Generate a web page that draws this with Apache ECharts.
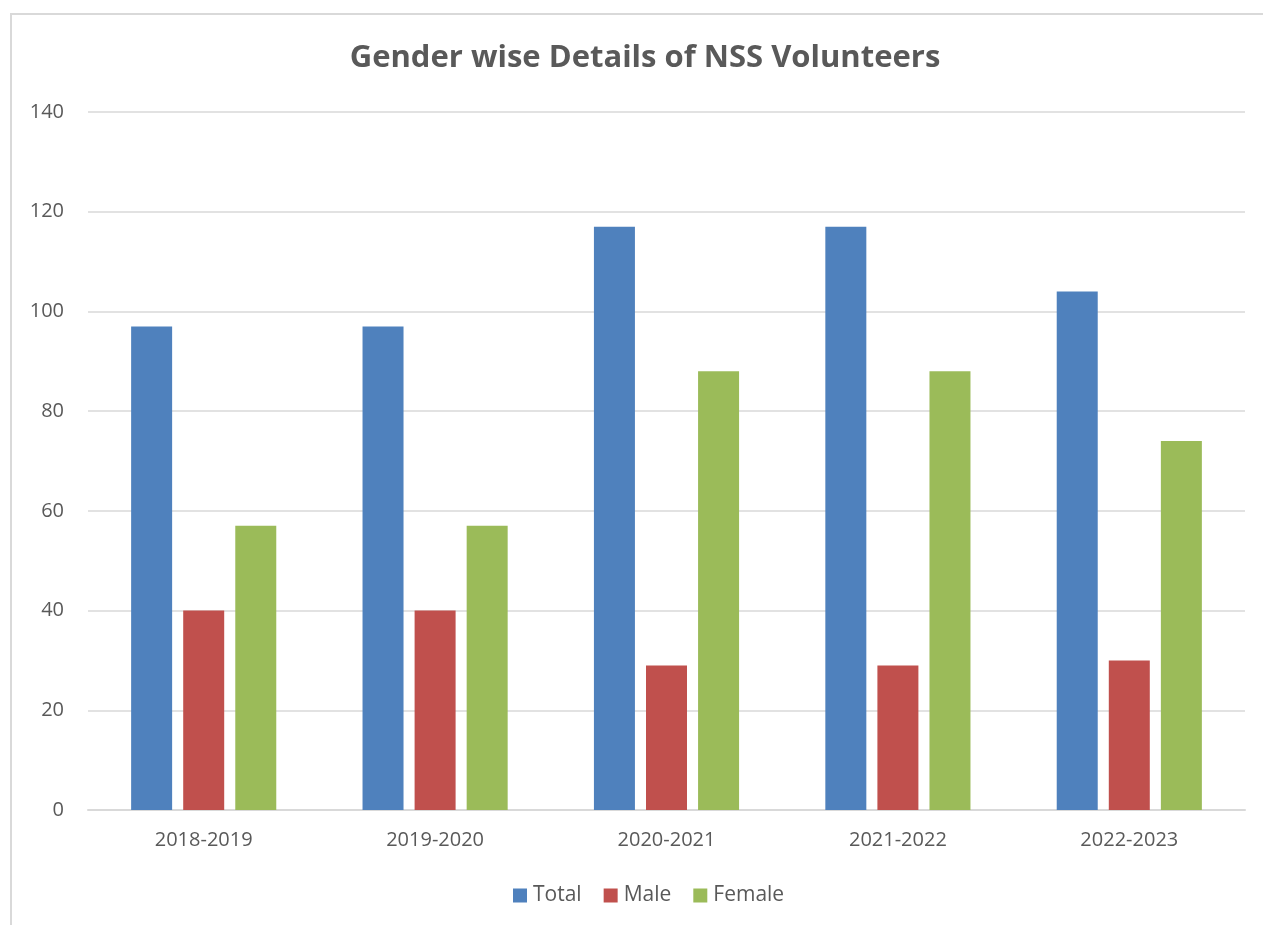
<!DOCTYPE html>
<html>
<head>
<meta charset="utf-8">
<script src="https://cdn.jsdelivr.net/npm/echarts@6/dist/echarts.min.js"></script>
<style>
  html, body { margin: 0; padding: 0; background: #fff; overflow: hidden; }
  #frame { position: absolute; left: 10px; top: 13px; width: 1400px; height: 1000px;
           border-left: 2px solid #d9d9d9; border-top: 2px solid #d9d9d9; }
  #chart { position: absolute; left: 0; top: 0; width: 1263px; height: 925px; }
</style>
</head>
<body>
<div id="frame"></div>
<div id="chart"></div>
<script>
// Gender wise NSS volunteer counts
const years = ['2018-2019', '2019-2020', '2020-2021', '2021-2022', '2022-2023'];
const total = [97, 97, 117, 117, 104];
const male = [40, 40, 29, 29, 30];
const female = [57, 57, 88, 88, 74];

const fontFamily = '"Open Sans", "Noto Sans", sans-serif';
const textColor = '#595959';

const chart = echarts.init(document.getElementById('chart'));

function barSeries(name, data, color) {
    return {
        name: name,
        type: 'bar',
        data: data,
        barWidth: 41,
        barGap: '27%',
        itemStyle: { color: color },
        emphasis: { disabled: true }
    };
}

chart.setOption({
    animation: false,
    title: {
        text: 'Gender wise Details of NSS Volunteers',
        left: 640,
        top: 38,
        textAlign: 'center',
        textStyle: { fontFamily: fontFamily, fontSize: 31, fontWeight: 'bold', color: textColor }
    },
    legend: {
        data: ['Total', 'Male', 'Female'],
        left: 508,
        top: 880,
        itemWidth: 14,
        itemHeight: 14,
        itemGap: 22,
        icon: 'rect',
        textStyle: { fontFamily: fontFamily, fontSize: 21, color: textColor, padding: [0, 0, 0, 1] }
    },
    grid: { left: 88, right: 18, top: 112, bottom: 115 },
    xAxis: {
        type: 'category',
        data: years,
        axisLine: { lineStyle: { color: '#d9d9d9', width: 2 } },
        axisTick: { show: false },
        axisLabel: { fontFamily: fontFamily, fontSize: 20, color: textColor, margin: 20 }
    },
    yAxis: {
        type: 'value',
        min: 0,
        max: 140,
        interval: 20,
        axisLine: { show: false },
        axisTick: { show: false },
        splitLine: { lineStyle: { color: '#d9d9d9', width: 1.5 } },
        axisLabel: { fontFamily: fontFamily, fontSize: 20, color: textColor, margin: 24 }
    },
    series: [
        barSeries('Total', total, '#4f81bd'),
        barSeries('Male', male, '#c0504d'),
        barSeries('Female', female, '#9bbb59')
    ]
});
</script>
</body>
</html>
